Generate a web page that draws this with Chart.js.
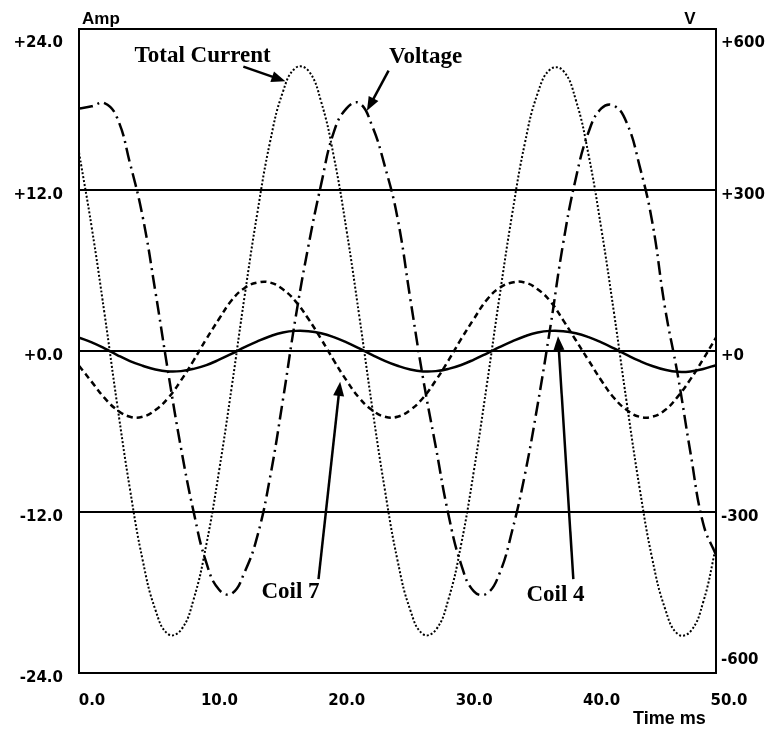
<!DOCTYPE html>
<html>
<head>
<meta charset="utf-8">
<title>Coil currents and voltage</title>
<script src="https://cdn.jsdelivr.net/npm/chart.js@4.4.0/dist/chart.umd.min.js"></script>
<style>
    body { margin: 0; background: #fff; }
    #wrap { position: relative; width: 769px; height: 730px; }
</style>
</head>
<body>
<div id="wrap"><canvas id="waveChart"></canvas></div>
<script>
// Readings taken off the scope trace, one per millisecond
const timeMs = [0, 1, 2, 3, 4, 5, 6, 7, 8, 9, 10, 11, 12, 13, 14, 15, 16, 17, 18, 19, 20,
    21, 22, 23, 24, 25, 26, 27, 28, 29, 30, 31, 32, 33, 34, 35, 36, 37, 38, 39, 40,
    41, 42, 43, 44, 45, 46, 47, 48, 49, 50];

// Amp (left axis)
const totalCurrent = [14.8, 9.2, 2.8, -4.0, -10.3, -15.6, -19.3, -21.1, -20.8, -18.5, -14.4,
    -8.9, -2.6, 4.1, 10.3, 15.6, 19.3, 21.1, 20.9, 18.6, 14.5,
    9.0, 2.6, -4.1, -10.3, -15.6, -19.3, -21.1, -20.8, -18.5, -14.4,
    -8.9, -2.6, 4.0, 10.2, 15.5, 19.2, 21.0, 20.9, 18.7, 14.6,
    9.1, 2.8, -3.9, -10.2, -15.5, -19.2, -21.1, -20.9, -18.7, -14.6];

const coil7 = [-1.1, -2.3, -3.5, -4.4, -4.9, -4.9, -4.4, -3.5, -2.2, -0.7, 0.9,
    2.4, 3.8, 4.7, 5.1, 5.1, 4.6, 3.7, 2.4, 0.9, -0.7,
    -2.2, -3.5, -4.4, -4.9, -4.9, -4.4, -3.5, -2.2, -0.7, 0.9,
    2.4, 3.8, 4.7, 5.1, 5.1, 4.6, 3.7, 2.3, 0.8, -0.7,
    -2.2, -3.5, -4.4, -4.9, -4.9, -4.4, -3.4, -2.1, -0.6, 1.0];

const coil4 = [1.0, 0.65, 0.2, -0.3, -0.75, -1.1, -1.38, -1.52, -1.5, -1.33, -1.05,
    -0.65, -0.2, 0.28, 0.72, 1.1, 1.38, 1.5, 1.48, 1.32, 1.03,
    0.64, 0.19, -0.28, -0.73, -1.1, -1.38, -1.52, -1.5, -1.33, -1.04,
    -0.64, -0.19, 0.28, 0.72, 1.1, 1.38, 1.5, 1.48, 1.32, 1.03,
    0.64, 0.19, -0.29, -0.74, -1.12, -1.4, -1.55, -1.52, -1.34, -1.05];

// Volt (right axis)
const voltage = [452, 456, 462, 434, 350, 250, 110, -40, -180, -300, -395,
    -445, -452, -412, -345, -235, -92, 62, 195, 310, 408,
    452, 462, 420, 345, 248, 98, -50, -178, -305, -398,
    -448, -452, -415, -335, -230, -100, 45, 200, 322, 408,
    452, 457, 425, 345, 240, 80, -45, -190, -322, -380];

const timeTicks = [0, 10, 20, 30, 40, 50];
const ampTicks = [-24, -12, 0, 12, 24];
const voltTicks = [-600, -300, 0, 300, 600];

// Callout labels, placed in time / amp units
const callouts = [
    { text: 'Total Current', at: [9.7, 22.0], tail: [12.9, 21.2], head: [16.2, 20.1] },
    { text: 'Voltage', at: [27.2, 21.9], tail: [24.3, 20.9], head: [22.6, 17.9] },
    { text: 'Coil 7', at: [16.6, -18.0], tail: [18.8, -17.0], head: [20.5, -2.3] },
    { text: 'Coil 4', at: [37.4, -18.2], tail: [38.8, -17.0], head: [37.6, 1.1] }
];

const tickFont = { family: '"DejaVu Sans", Arial, sans-serif', size: 15, weight: 'bold' };

function points(values) {
    return timeMs.map((t, i) => ({ x: t, y: values[i] }));
}

function setTicks(list) {
    return (scale) => { scale.ticks = list.map(v => ({ value: v })); };
}

// fixed axis size; end labels may stick out without moving the frame
function fixWidth(w) {
    return (scale) => {
        scale.width = w;
        scale.paddingTop = 0;
        scale.paddingBottom = 0;
    };
}

const calloutPlugin = {
    id: 'callouts',
    afterDatasetsDraw(chart) {
        const { ctx, chartArea } = chart;
        const x = chart.scales.x;
        const y = chart.scales.yA;
        ctx.save();
        ctx.fillStyle = '#000';
        ctx.strokeStyle = '#000';

        // axis captions
        ctx.font = 'bold 17px "Liberation Sans", Arial, sans-serif';
        ctx.textBaseline = 'middle';
        ctx.textAlign = 'left';
        ctx.fillText('Amp', chartArea.left + 3, chartArea.top - 10);
        ctx.textAlign = 'center';
        ctx.fillText('V', chartArea.right - 26, chartArea.top - 10);
        ctx.font = 'bold 18px "Liberation Sans", Arial, sans-serif';
        ctx.textAlign = 'left';
        ctx.fillText('Time ms', chartArea.right - 83, chartArea.bottom + 46);

        ctx.font = 'bold 23px "Liberation Serif", "Times New Roman", serif';
        ctx.textAlign = 'center';
        callouts.forEach(c => {
            ctx.fillText(c.text, x.getPixelForValue(c.at[0]), y.getPixelForValue(c.at[1]));

            const x0 = x.getPixelForValue(c.tail[0]);
            const y0 = y.getPixelForValue(c.tail[1]);
            const x1 = x.getPixelForValue(c.head[0]);
            const y1 = y.getPixelForValue(c.head[1]);
            const ang = Math.atan2(y1 - y0, x1 - x0);

            ctx.lineWidth = 2.5;
            ctx.beginPath();
            ctx.moveTo(x0, y0);
            ctx.lineTo(x1 - 8 * Math.cos(ang), y1 - 8 * Math.sin(ang));
            ctx.stroke();

            ctx.beginPath();
            ctx.moveTo(x1, y1);
            ctx.lineTo(x1 - 14 * Math.cos(ang) + 5.5 * Math.sin(ang), y1 - 14 * Math.sin(ang) - 5.5 * Math.cos(ang));
            ctx.lineTo(x1 - 14 * Math.cos(ang) - 5.5 * Math.sin(ang), y1 - 14 * Math.sin(ang) + 5.5 * Math.cos(ang));
            ctx.closePath();
            ctx.fill();
        });
        ctx.restore();
    }
};

const lineStyle = {
    borderColor: '#000',
    pointRadius: 0,
    fill: false,
    tension: 0.45
};

const config = {
    type: 'line',
    data: {
        datasets: [
            { ...lineStyle, label: 'Total Current', data: points(totalCurrent), yAxisID: 'yA', borderWidth: 2, borderDash: [2, 2] },
            { ...lineStyle, label: 'Voltage', data: points(voltage), yAxisID: 'yV', borderWidth: 2.5, borderDash: [14, 5, 2, 5] },
            { ...lineStyle, label: 'Coil 7', data: points(coil7), yAxisID: 'yA', borderWidth: 2.5, borderDash: [6, 4] },
            { ...lineStyle, label: 'Coil 4', data: points(coil4), yAxisID: 'yA', borderWidth: 2.5 }
        ]
    },
    options: {
        responsive: true,
        maintainAspectRatio: false,
        animation: false,
        layout: { padding: { top: 29, left: 0, right: 0, bottom: 0 } },
        plugins: {
            legend: { display: false },
            tooltip: { enabled: false }
        },
        scales: {
            x: {
                type: 'linear',
                min: 0,
                max: 50,
                afterBuildTicks: setTicks(timeTicks),
                afterFit: (scale) => { scale.height = 57; },
                grid: { display: false },
                border: { display: true, color: '#000', width: 2 },
                ticks: {
                    color: '#000',
                    font: tickFont,
                    padding: 11,
                    labelOffset: 13,
                    maxRotation: 0,
                    autoSkip: false,
                    callback: (v) => v.toFixed(1)
                }
            },
            yA: {
                type: 'linear',
                position: 'left',
                min: -24,
                max: 24,
                afterBuildTicks: setTicks(ampTicks),
                afterFit: fixWidth(79),
                grid: { color: '#000', lineWidth: 2, drawTicks: false },
                border: { display: true, color: '#000', width: 2 },
                ticks: {
                    color: '#000',
                    font: tickFont,
                    padding: 16,
                    labelOffset: 5,
                    callback: (v) => {
                        const text = (v >= 0 ? '+' : '') + v.toFixed(1);
                        // top label is printed inside the frame
                        return v === ampTicks[ampTicks.length - 1] ? ['', text] : text;
                    }
                }
            },
            yV: {
                type: 'linear',
                position: 'right',
                min: -600,
                max: 600,
                afterBuildTicks: setTicks(voltTicks),
                afterFit: fixWidth(53),
                grid: { display: false, drawTicks: false },
                border: { display: true, color: '#000', width: 2 },
                ticks: {
                    color: '#000',
                    font: tickFont,
                    padding: 5,
                    labelOffset: 5,
                    callback: (v) => {
                        const text = (v >= 0 ? '+' : '') + v;
                        if (v === voltTicks[voltTicks.length - 1]) return ['', text];
                        if (v === voltTicks[0]) return [text, '', ''];
                        return text;
                    }
                }
            }
        }
    },
    plugins: [calloutPlugin]
};

new Chart(document.getElementById('waveChart'), config);
</script>
</body>
</html>
